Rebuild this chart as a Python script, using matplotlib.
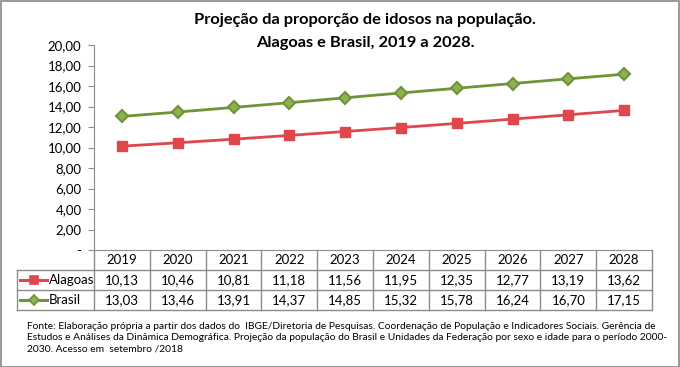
import matplotlib
matplotlib.use('Agg')
import matplotlib.pyplot as plt
from matplotlib.lines import Line2D
from matplotlib.patches import Rectangle

plt.rcParams['font.family'] = ['Lato', 'DejaVu Sans']

# data
years = ['2019', '2020', '2021', '2022', '2023', '2024', '2025', '2026', '2027', '2028']
alagoas = [10.13, 10.46, 10.81, 11.18, 11.56, 11.95, 12.35, 12.77, 13.19, 13.62]
brasil = [13.03, 13.46, 13.91, 14.37, 14.85, 15.32, 15.78, 16.24, 16.70, 17.15]
yticks = [0, 2, 4, 6, 8, 10, 12, 14, 16, 18, 20]

red = '#E0474C'
green_edge = '#6E9435'
green_fill = '#8DB255'
grid_col = '#8C8C8C'

W, H = 680, 367
fig = plt.figure(figsize=(6.8, 3.67), dpi=100)
ax = fig.add_axes([94 / W, 1 - 250 / H, 558 / W, 205 / H])

x = range(len(years))
ax.plot(x, brasil, color=green_edge, lw=2.0, marker='D', ms=6.5,
        mfc=green_fill, mec=green_edge, mew=1.5)
ax.plot(x, alagoas, color=red, lw=2.0, marker='s', ms=7, mfc=red, mec=red)

ax.set_xlim(-0.5, len(years) - 0.5)
ax.set_ylim(0, 20)
ax.set_yticks(yticks)
ax.set_yticklabels(['-' if v == 0 else f'{v:.2f}'.replace('.', ',') for v in yticks], fontsize=9.5)
ax.set_xticks([])
for s in ['top', 'right']:
    ax.spines[s].set_visible(False)
ax.spines['left'].set_color(grid_col)
ax.spines['bottom'].set_color(grid_col)
ax.tick_params(axis='y', length=4, color=grid_col, pad=5)

# data table drawn under the axis (x in data units, y in axes fraction)
tr = ax.get_xaxis_transform()
ah = 205.0
def fy(py):  # pixel distance below axis bottom -> axes fraction
    return -py / ah

n = len(years)
left_lbl = -0.5 - 77 / 55.8
rows = [('Alagoas', alagoas), ('Brasil', brasil)]
for yy in [20, 40, 60]:
    ax.add_line(Line2D([left_lbl, n - 0.5], [fy(yy)] * 2, color=grid_col, lw=1,
                       transform=tr, clip_on=False))
for i in range(n + 1):
    ax.add_line(Line2D([i - 0.5] * 2, [0, fy(60)], color=grid_col, lw=1,
                       transform=tr, clip_on=False))
ax.add_line(Line2D([left_lbl] * 2, [fy(20), fy(60)], color=grid_col, lw=1,
                   transform=tr, clip_on=False))
for i, yr in enumerate(years):
    ax.text(i, fy(10), yr, ha='center', va='center', fontsize=9.5, transform=tr, clip_on=False)
for r, (name, vals) in enumerate(rows):
    yc = fy(30 + 20 * r)
    ax.text(-0.5 - 45 / 55.8, yc, name, ha='left', va='center', fontsize=9.5,
            transform=tr, clip_on=False)
    for i, v in enumerate(vals):
        ax.text(i, yc, f'{v:.2f}'.replace('.', ','), ha='center', va='center',
                fontsize=9.5, transform=tr, clip_on=False)

# legend keys inside the row labels
def key(y, color, marker, mfc, mec, ms):
    fig.add_artist(Line2D([20 / W, 47 / W], [1 - y / H] * 2, color=color, lw=2.2,
                          transform=fig.transFigure))
    fig.add_artist(Line2D([33.5 / W], [1 - y / H], marker=marker, ms=ms, mfc=mfc, mec=mec,
                          mew=1.2, transform=fig.transFigure))

key(280, red, 's', red, red, 6)
key(300, green_edge, 'D', green_fill, green_edge, 5.5)

fig.text(365 / W, 1 - 20 / H, 'Projeção da proporção de idosos na população.',
         ha='center', va='center', fontsize=11.8, fontweight='bold')
fig.text(365 / W, 1 - 43 / H, 'Alagoas e Brasil, 2019 a 2028.',
         ha='center', va='center', fontsize=11.8, fontweight='bold')

foot = ('Fonte: Elaboração própria a partir dos dados do  IBGE/Diretoria de Pesquisas. Coordenação de População e Indicadores Sociais. Gerência de\n'
        'Estudos e Análises da Dinâmica Demográfica. Projeção da população do Brasil e Unidades da Federação por sexo e idade para o período 2000-\n'
        '2030. Acesso em  setembro /2018')
fig.text(27 / W, 1 - 322 / H, foot, ha='left', va='top', fontsize=7.4, linespacing=1.35)

fig.add_artist(Rectangle((0.5 / W, 0.5 / H), 1 - 1.5 / W, 1 - 1.5 / H, fill=False,
                         edgecolor='#888888', lw=1.2, transform=fig.transFigure))

fig.savefig('out.png', dpi=100)
